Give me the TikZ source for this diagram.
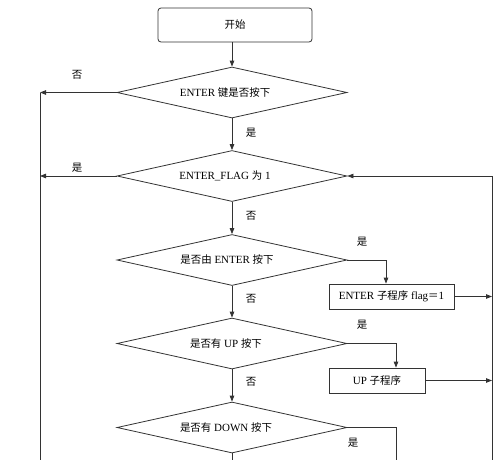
\documentclass[tikz,border=0pt]{standalone}
\usepackage{fontspec}
\setmainfont{Liberation Serif}
\newfontfamily\cjk[Scale=0.95]{Noto Sans CJK SC}
\newcommand\zhtxt[1]{{\cjk #1}}
\usetikzlibrary{shapes.geometric,arrows.meta}
\begin{document}
\begin{tikzpicture}[x=1pt,y=-1pt,
  every node/.style={font=\fontsize{11}{13}\selectfont, text=black},
  ln/.style={draw=black!80, line width=0.8pt},
  arr/.style={ln, -{Triangle[length=6pt,width=4.5pt]}},
  dec/.style={shape=diamond, ln, minimum width=230pt, minimum height=51pt, inner sep=0pt, aspect=4.5},
  startbox/.style={ln, rounded corners=3pt, minimum width=154pt, minimum height=34pt, inner sep=0pt},
  procbox/.style={ln, minimum height=25pt, inner sep=0pt},
  lab/.style={inner sep=0pt}]
\useasboundingbox (0,0) rectangle (500,459);
\clip (0,0) rectangle (500,459);
\fill[white] (0,0) rectangle (500,459);
% nodes
\node[startbox] (start) at (235,25) {\zhtxt{开始}};
\node[dec] (d1) at (232,92.5) {};
\node at (225,92.5) {ENTER \zhtxt{键是否按下}};
\node[dec] (d2) at (232,176) {};
\node at (225,176) {ENTER\_FLAG \zhtxt{为} 1};
\node[dec] (d3) at (232,260) {};
\node at (227,260) {\zhtxt{是否由} ENTER \zhtxt{按下}};
\node[dec] (d4) at (232,343.5) {};
\node at (226,343.5) {\zhtxt{是否有} UP \zhtxt{按下}};
\node[dec] (d5) at (232,427.5) {};
\node at (226,427.5) {\zhtxt{是否有} DOWN \zhtxt{按下}};
\node[procbox, minimum width=125pt] (e1) at (391.5,296.5) {ENTER \zhtxt{子程序} flag\zhtxt{＝}1};
\node[procbox, minimum width=96pt] (up) at (377,380.5) {UP \zhtxt{子程序}};
% coordinates
\coordinate (L1) at (40,92.5);
\coordinate (L2) at (40,176);
\coordinate (Lb) at (40,470);
\coordinate (Rt) at (492,176);
\coordinate (Rb) at (492,470);
\coordinate (R1) at (492,296.5);
\coordinate (R2) at (492,380.5);
\coordinate (c3) at (386,260);
\coordinate (c4) at (396,343.5);
\coordinate (c5) at (396,427.5);
\coordinate (c5b) at (396,470);
% connectors
\draw[arr] (start.south -| d1.north) -- (d1.north);
\draw[arr] (d1) -- (d2);
\draw[arr] (d2) -- (d3);
\draw[arr] (d3) -- (d4);
\draw[arr] (d4) -- (d5);
\draw[ln] (d5.south) -- ++(0,10);
\draw[arr] (d1.west) -- (L1);
\draw[arr] (d2.west) -- (L2);
\draw[ln] (L1) -- (Lb);
\draw[arr] (Rb) -- (Rt) -- (d2.east);
\draw[arr] (d3.east) -- (c3) -- (c3 |- e1.north);
\draw[arr] (d4.east) -- (c4) -- (c4 |- up.north);
\draw[arr] (d5.east) -- (c5) -- (c5b);
\draw[arr] (e1.east) -- (R1);
\draw[arr] (up.east) -- (R2);
% labels
\node[lab] at (77,75) {\zhtxt{否}};
\node[lab] at (251,133) {\zhtxt{是}};
\node[lab] at (77,168) {\zhtxt{是}};
\node[lab] at (251,216) {\zhtxt{否}};
\node[lab] at (362,242) {\zhtxt{是}};
\node[lab] at (251,299) {\zhtxt{否}};
\node[lab] at (362,325) {\zhtxt{是}};
\node[lab] at (251,382) {\zhtxt{否}};
\node[lab] at (353,443) {\zhtxt{是}};
\end{tikzpicture}
\end{document}
